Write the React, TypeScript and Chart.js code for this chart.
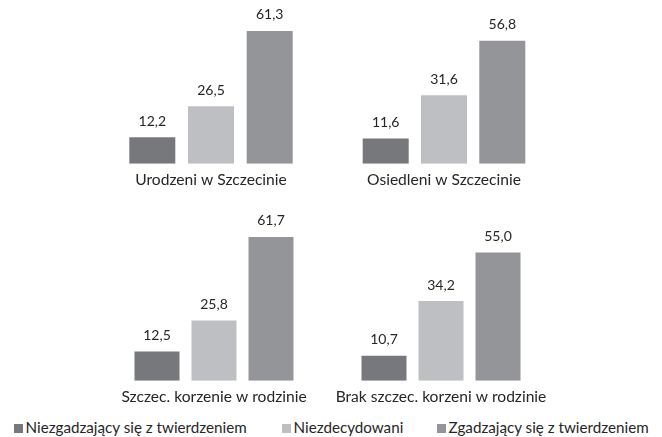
import React, { useEffect, useRef } from 'react';
import { Chart, registerables } from 'chart.js';

Chart.register(...registerables);

// ---- data ----
const seriesNames = ['Niezgadzający się z twierdzeniem', 'Niezdecydowani', 'Zgadzający się z twierdzeniem'];
const panelTitles = ['Urodzeni w Szczecinie', 'Osiedleni w Szczecinie', 'Szczec. korzenie w rodzinie', 'Brak szczec. korzeni w rodzinie'];
const disagree = [12.2, 11.6, 12.5, 10.7];
const undecided = [26.5, 31.6, 25.8, 34.2];
const agree = [61.3, 56.8, 61.7, 55.0];

// ---- styles / layout ----
const colors = ['#77787b', '#bebfc3', '#949599'];
const textColor = '#262626';
const FONT = 'Lato';
const panels = [
  { center: 211, pitch: 58.7, barW: 46, baseline: 163.7, ppu: 2.165, top: 0 },
  { center: 444, pitch: 58.3, barW: 46, baseline: 163.7, ppu: 2.165, top: 0 },
  { center: 213.7, pitch: 57, barW: 45, baseline: 380.7, ppu: 2.33, top: 205 },
  { center: 440.5, pitch: 57, barW: 45, baseline: 380.7, ppu: 2.33, top: 205 },
];
const W = 240;
const Y_MAX = 70;
const TICK_PAD = 7;
const LABEL_SIZE = 15.6;
const LINE_H = LABEL_SIZE * 1.2;
const LEGEND_SIZE = 15.2;
const legendX = [14, 282, 437];

function Panel({ index }: { index: number }) {
  const ref = useRef<HTMLCanvasElement>(null);
  const p = panels[index];
  const areaH = Y_MAX * p.ppu;
  const padTop = p.baseline - areaH - p.top;
  const exactH = padTop + areaH + 2 * TICK_PAD + LINE_H;
  const height = Math.ceil(exactH);
  const padBottom = height - exactH;

  useEffect(() => {
    const valuePlugin = {
      id: 'values',
      afterDatasetsDraw(chart: any) {
        const ctx = chart.ctx;
        ctx.save();
        ctx.font = `14px ${FONT}`;
        ctx.fillStyle = textColor;
        ctx.textAlign = 'center';
        ctx.textBaseline = 'alphabetic';
        chart.data.datasets.forEach((ds: any, i: number) => {
          const meta = chart.getDatasetMeta(i);
          meta.data.forEach((bar: any, j: number) => {
            const v = ds.data[j] as number;
            ctx.fillText(v.toFixed(1).replace('.', ','), bar.x, bar.y - 11.5);
          });
        });
        ctx.restore();
      },
    };
    const seriesData = [disagree, undecided, agree];
    const chart = new Chart(ref.current as HTMLCanvasElement, {
      type: 'bar',
      data: {
        labels: [panelTitles[index]],
        datasets: seriesData.map((arr, i) => ({
          label: seriesNames[i],
          data: [arr[index]],
          backgroundColor: colors[i],
          borderWidth: 0,
        })),
      },
      options: {
        animation: false,
        responsive: false,
        maintainAspectRatio: false,
        devicePixelRatio: 1,
        layout: { padding: { top: padTop, left: 0, right: 0, bottom: padBottom } },
        datasets: {
          bar: { categoryPercentage: (3 * p.pitch) / W, barPercentage: p.barW / p.pitch },
        },
        plugins: { legend: { display: false }, tooltip: { enabled: false } },
        scales: {
          x: {
            grid: { display: false, drawTicks: false },
            border: { display: false },
            ticks: {
              padding: TICK_PAD,
              color: textColor,
              font: { family: FONT, size: LABEL_SIZE, lineHeight: 1.2 },
              maxRotation: 0,
              autoSkip: false,
            },
          },
          y: { display: false, min: 0, max: Y_MAX },
        },
      } as any,
      plugins: [valuePlugin],
    });
    return () => chart.destroy();
  }, []);

  return (
    <canvas
      ref={ref}
      width={W}
      height={height}
      style={{ position: 'absolute', left: p.center - W / 2, top: p.top, width: W, height }}
    />
  );
}

export default function App() {
  return (
    <div
      style={{
        position: 'fixed',
        left: 0,
        top: 0,
        width: 662,
        height: 437,
        background: '#ffffff',
        overflow: 'hidden',
      }}
    >
      {panels.map((_, i) => (
        <Panel key={i} index={i} />
      ))}
      {seriesNames.map((name, i) => (
        <React.Fragment key={name}>
          <div
            style={{
              position: 'absolute',
              left: legendX[i],
              top: 424,
              width: 9,
              height: 9,
              background: colors[i],
            }}
          />
          <span
            style={{
              position: 'absolute',
              left: legendX[i] + 11.5,
              top: 419.2,
              font: `${LEGEND_SIZE}px ${FONT}`,
              lineHeight: '16px',
              whiteSpace: 'nowrap',
              color: textColor,
            }}
          >
            {name}
          </span>
        </React.Fragment>
      ))}
    </div>
  );
}
